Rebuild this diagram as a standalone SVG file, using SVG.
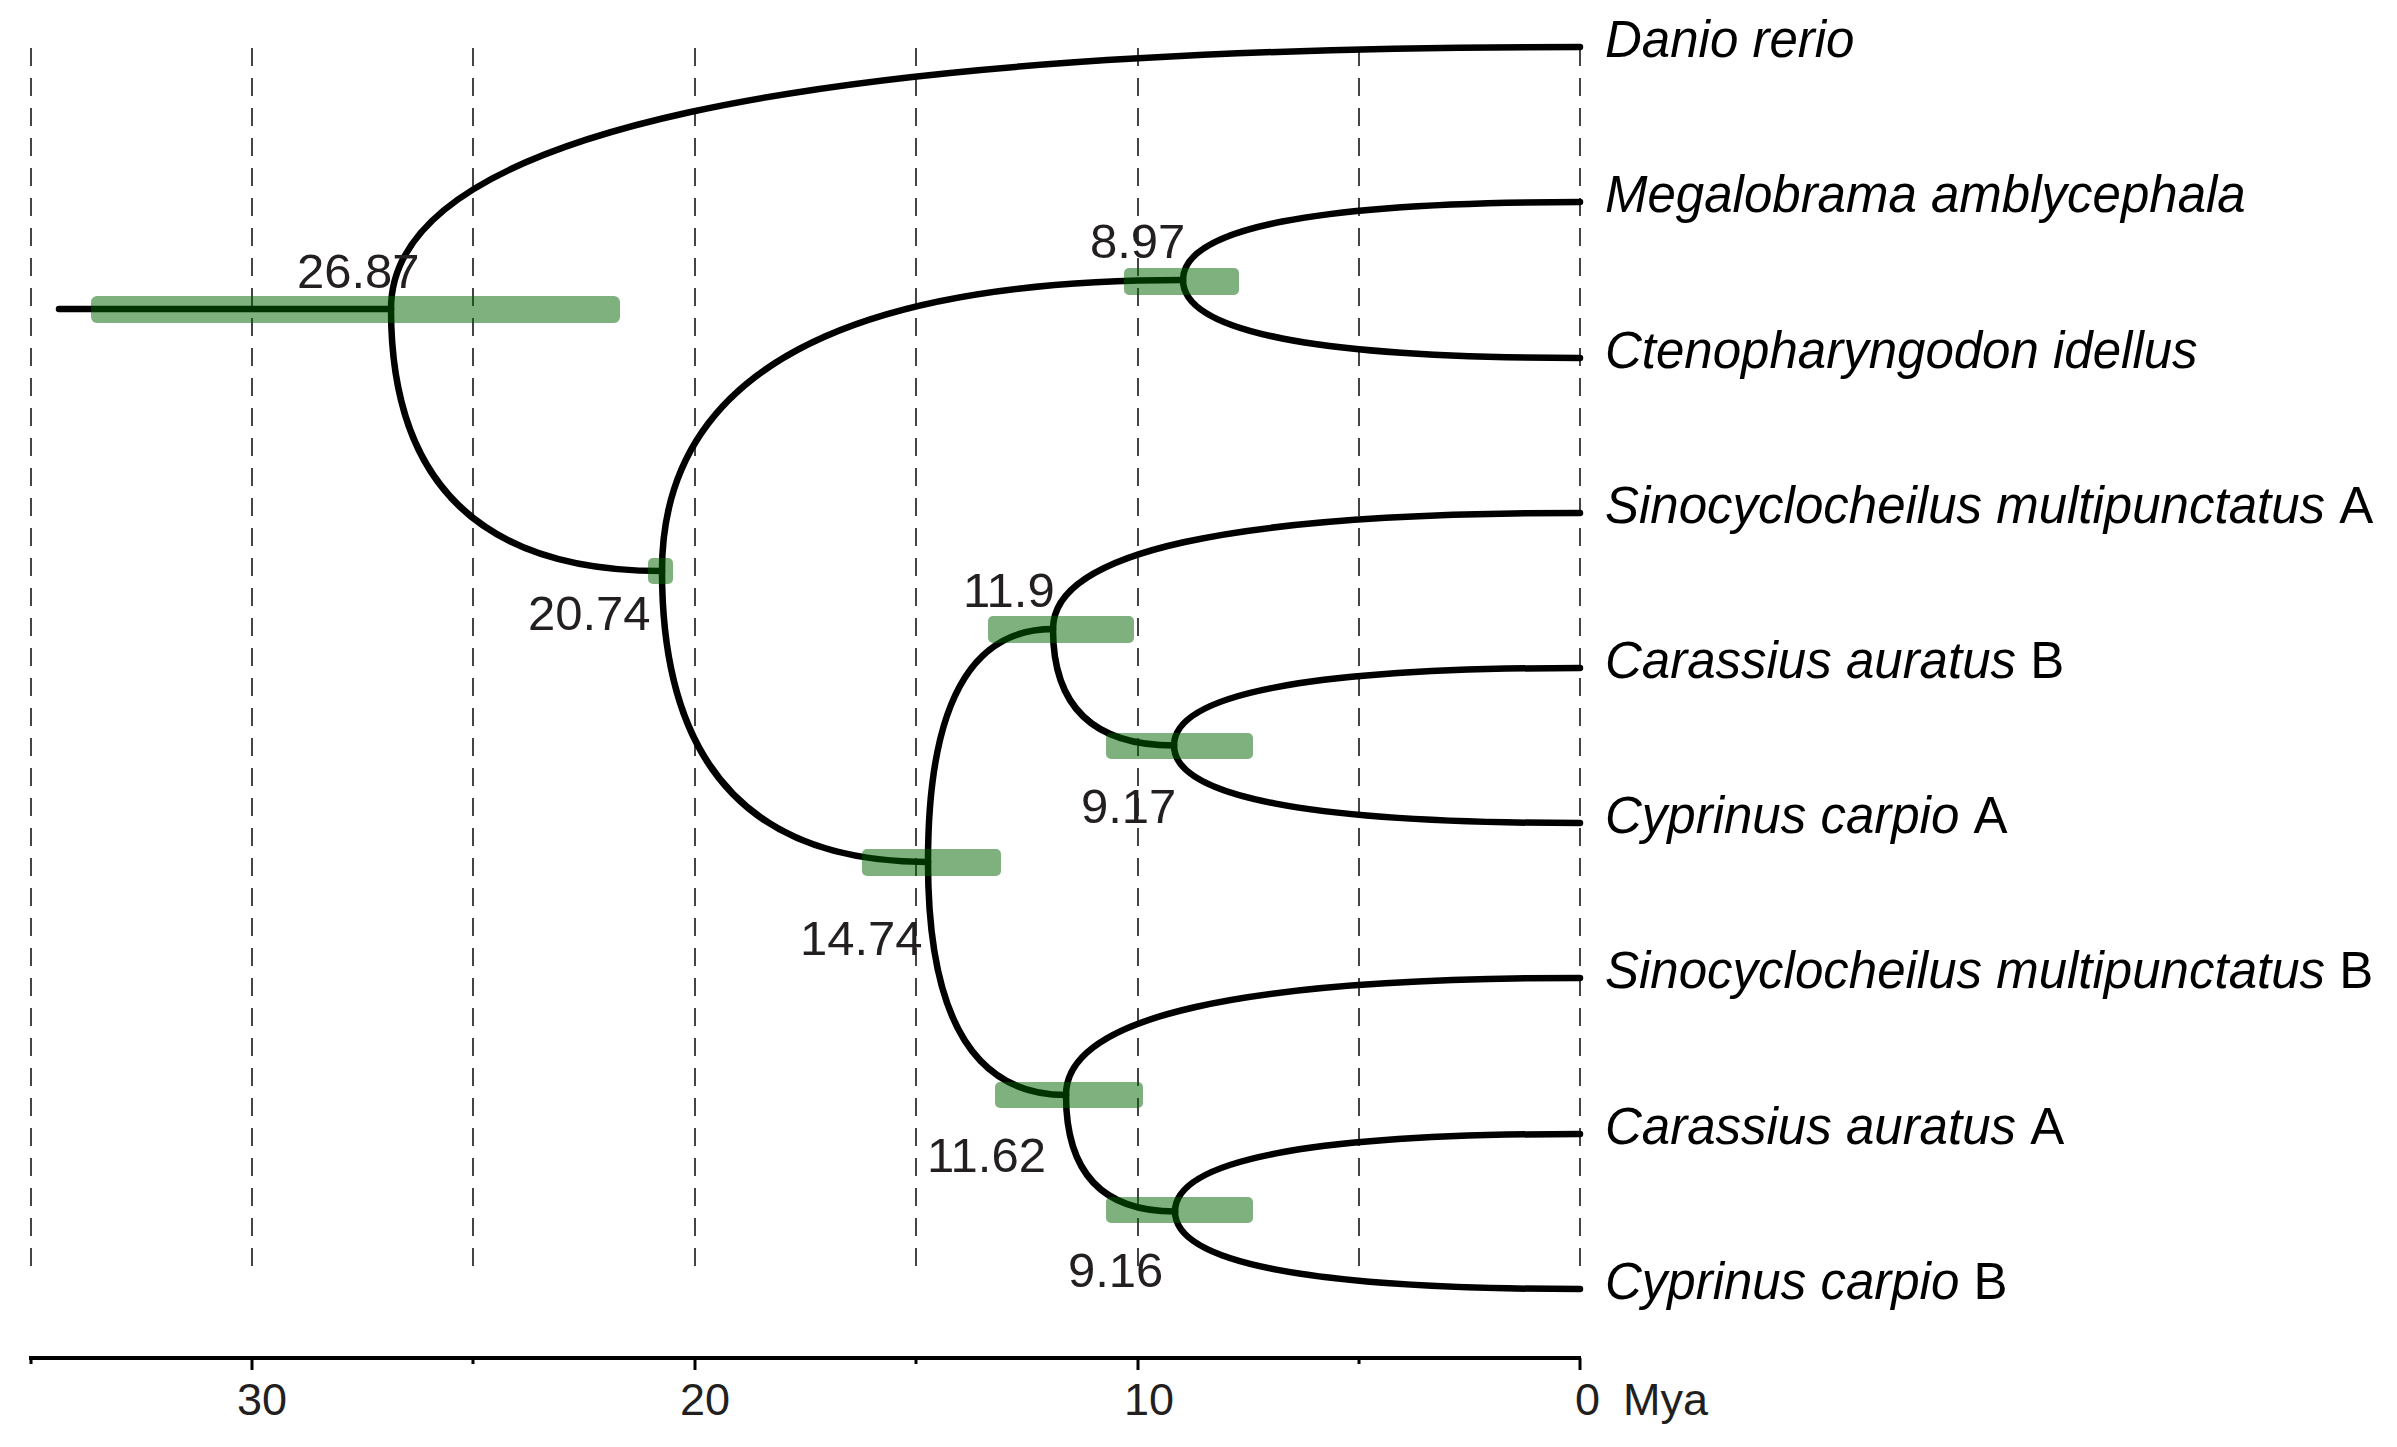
<svg xmlns="http://www.w3.org/2000/svg" width="2397" height="1447" viewBox="0 0 2397 1447">
<style>
.grid{stroke:#444;stroke-width:2;stroke-dasharray:18 12;fill:none}
.br{stroke:#000;stroke-width:6.5;fill:none;stroke-linecap:round;stroke-linejoin:round}
.hpd{fill:#006400;fill-opacity:0.5}
.num{font-family:"Liberation Sans",Arial,sans-serif;font-size:49px;fill:#231f20}
.ax{font-family:"Liberation Sans",Arial,sans-serif;font-size:45px;fill:#231f20}
.sp{font-family:"Liberation Sans",Arial,sans-serif;font-size:51px;font-style:italic;fill:#000}
.up{font-style:normal}
.axis{stroke:#000;stroke-width:4;fill:none}
.tick{stroke:#000;stroke-width:3}
</style>
<rect width="2397" height="1447" fill="#fff"/>
<g id="grid">
<line class="grid" x1="31" y1="48" x2="31" y2="1278"/>
<line class="grid" x1="252" y1="48" x2="252" y2="1278"/>
<line class="grid" x1="473" y1="48" x2="473" y2="1278"/>
<line class="grid" x1="695" y1="48" x2="695" y2="1278"/>
<line class="grid" x1="916" y1="48" x2="916" y2="1278"/>
<line class="grid" x1="1138" y1="48" x2="1138" y2="1278"/>
<line class="grid" x1="1359" y1="48" x2="1359" y2="1278"/>
<line class="grid" x1="1580" y1="48" x2="1580" y2="1278"/>
</g>
<g id="connectors">
<path class="br" d="M59 309 H391"/>
<path class="br" d="M391 309 Q391 47 1580 47"/>
<path class="br" d="M391 309 Q391 571 662 571"/>
<path class="br" d="M662 571 Q662 280 1183 280"/>
<path class="br" d="M662 571 Q662 862 928 862"/>
<path class="br" d="M1183 280 Q1183 202 1580 202"/>
<path class="br" d="M1183 280 Q1183 358 1580 358"/>
<path class="br" d="M928 862 Q928 629 1053 629"/>
<path class="br" d="M928 862 Q928 1095 1066 1095"/>
<path class="br" d="M1053 629 Q1053 513 1580 513"/>
<path class="br" d="M1053 629 Q1053 745.5 1174 745.5"/>
<path class="br" d="M1174 745.5 Q1174 668 1580 668"/>
<path class="br" d="M1174 745.5 Q1174 823 1580 823"/>
<path class="br" d="M1066 1095 Q1066 978 1580 978"/>
<path class="br" d="M1066 1095 Q1066 1211.5 1175 1211.5"/>
<path class="br" d="M1175 1211.5 Q1175 1134 1580 1134"/>
<path class="br" d="M1175 1211.5 Q1175 1289 1580 1289"/>
</g>
<g id="node-root">
<rect class="hpd" x="91" y="296" width="529" height="27" rx="6"/>
<text class="num" x="297" y="288">26.87</text>
</g>
<g id="node-20-74">
<rect class="hpd" x="648" y="558" width="25" height="26" rx="5"/>
<text class="num" x="528" y="630">20.74</text>
</g>
<g id="node-8-97">
<rect class="hpd" x="1124" y="268" width="115" height="27" rx="5"/>
<text class="num" x="1090" y="258">8.97</text>
</g>
<g id="node-14-74">
<rect class="hpd" x="862" y="849" width="139" height="27" rx="5"/>
<text class="num" x="800" y="955">14.74</text>
</g>
<g id="node-11-9">
<rect class="hpd" x="988" y="616" width="146" height="27" rx="5"/>
<text class="num" x="963" y="607">11.9</text>
</g>
<g id="node-9-17">
<rect class="hpd" x="1106" y="733" width="147" height="26" rx="5"/>
<text class="num" x="1081" y="823">9.17</text>
</g>
<g id="node-11-62">
<rect class="hpd" x="995" y="1082" width="148" height="26" rx="5"/>
<text class="num" x="927" y="1172">11.62</text>
</g>
<g id="node-9-16">
<rect class="hpd" x="1106" y="1197" width="147" height="26" rx="5"/>
<text class="num" x="1068" y="1287">9.16</text>
</g>
<g id="tip-danio"><text class="sp" x="1605" y="57">Danio rerio</text></g>
<g id="tip-mega"><text class="sp" x="1605" y="212">Megalobrama amblycephala</text></g>
<g id="tip-cteno"><text class="sp" x="1605" y="368">Ctenopharyngodon idellus</text></g>
<g id="tip-sinoA"><text class="sp" x="1605" y="523">Sinocyclocheilus multipunctatus <tspan class="up">A</tspan></text></g>
<g id="tip-carB"><text class="sp" x="1605" y="678">Carassius auratus <tspan class="up">B</tspan></text></g>
<g id="tip-cypA"><text class="sp" x="1605" y="833">Cyprinus carpio <tspan class="up">A</tspan></text></g>
<g id="tip-sinoB"><text class="sp" x="1605" y="988">Sinocyclocheilus multipunctatus <tspan class="up">B</tspan></text></g>
<g id="tip-carA"><text class="sp" x="1605" y="1144">Carassius auratus <tspan class="up">A</tspan></text></g>
<g id="tip-cypB"><text class="sp" x="1605" y="1299">Cyprinus carpio <tspan class="up">B</tspan></text></g>
<g id="axis">
<line class="axis" x1="29" y1="1358" x2="1581" y2="1358"/>
<line class="tick" x1="31" y1="1358" x2="31" y2="1364"/>
<line class="tick" x1="252" y1="1358" x2="252" y2="1370"/>
<line class="tick" x1="473" y1="1358" x2="473" y2="1364"/>
<line class="tick" x1="695" y1="1358" x2="695" y2="1370"/>
<line class="tick" x1="916" y1="1358" x2="916" y2="1364"/>
<line class="tick" x1="1138" y1="1358" x2="1138" y2="1370"/>
<line class="tick" x1="1359" y1="1358" x2="1359" y2="1364"/>
<line class="tick" x1="1580" y1="1358" x2="1580" y2="1370"/>
<text class="ax" x="237" y="1415">30</text>
<text class="ax" x="680" y="1415">20</text>
<text class="ax" x="1124" y="1415">10</text>
<text class="ax" y="1415"><tspan x="1575">0</tspan><tspan x="1623">Mya</tspan></text>
</g>
</svg>
